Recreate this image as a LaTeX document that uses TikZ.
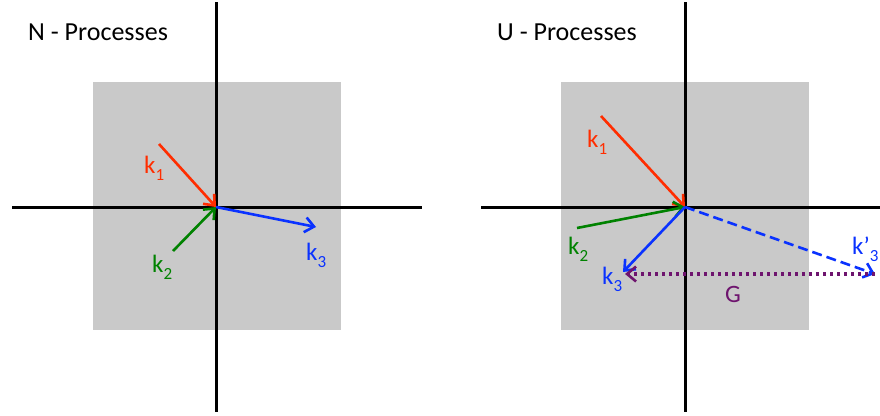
\documentclass[tikz,border=0pt]{standalone}
\usepackage{fontspec}
\setmainfont{Carlito}
\usetikzlibrary{arrows.meta}
\definecolor{kred}{RGB}{255,45,0}
\definecolor{kgreen}{RGB}{0,130,0}
\definecolor{kblue}{RGB}{10,50,255}
\definecolor{kpurple}{RGB}{110,20,110}
\definecolor{boxgray}{RGB}{201,201,201}
\newcommand\ksub[1]{\raisebox{-7pt}{\fontsize{17}{17}\selectfont #1}}
\tikzset{
  axis/.style={line width=3pt,black},
  vec/.style={line width=2.6pt,-{Straight Barb[length=9pt,width=15pt,line width=2.6pt]}},
  lbl/.style={font=\fontsize{25}{27}\selectfont,inner sep=0pt,anchor=base west},
  title/.style={font=\fontsize{26}{28}\selectfont,inner sep=0pt,anchor=base west},
  panel/.style={fill=boxgray,draw=none}
}
\begin{document}
\begin{tikzpicture}[x=1pt,y=-1pt]
\useasboundingbox (0,0) rectangle (880,415);
% left panel
\fill[panel] (93,82) rectangle (341,330);
\coordinate (oL) at (216,207);
\coordinate (axLt) at (216,2);
\coordinate (axLb) at (216,412);
\coordinate (axLl) at (12,207);
\coordinate (axLr) at (422,207);
\draw[axis] (axLt) -- (axLb);
\draw[axis] (axLl) -- (axLr);
\node[title] (tN) at (28,40) {N - Processes};
\coordinate (k1sL) at (159,144);
\coordinate (k2sL) at (173,251);
\coordinate (k3eL) at (316,227);
\draw[vec,kred] (k1sL) -- (oL);
\draw[vec,kgreen] (k2sL) -- (oL);
\draw[vec,kblue] (oL) -- (k3eL);
\node[lbl,text=kred] (lk1L) at (144,173) {k\ksub{1}};
\node[lbl,text=kgreen] (lk2L) at (152,272) {k\ksub{2}};
\node[lbl,text=kblue] (lk3L) at (306,260) {k\ksub{3}};
% right panel
\fill[panel] (561,82) rectangle (809,330);
\coordinate (oR) at (685,207);
\coordinate (axRt) at (685,2);
\coordinate (axRb) at (685,412);
\coordinate (axRl) at (481,207);
\coordinate (axRr) at (880,207);
\draw[axis] (axRt) -- (axRb);
\draw[axis] (axRl) -- (axRr);
\node[title] (tU) at (497,40) {U - Processes};
\coordinate (k1sR) at (601,116);
\coordinate (k2sR) at (577,228);
\coordinate (k3eR) at (623,272);
\coordinate (k3pR) at (875,274);
\coordinate (GeR) at (625,274);
\draw[vec,kred] (k1sR) -- (oR);
\draw[vec,kgreen] (k2sR) -- (oR);
\draw[vec,kblue] (oR) -- (k3eR);
\draw[vec,kblue,dash pattern=on 10pt off 5pt] (oR) -- (k3pR);
\draw[vec,kpurple,line width=3.2pt,dash pattern=on 3.5pt off 3.5pt] (k3pR) -- (GeR);
\node[lbl,text=kred] (lk1R) at (587,147) {k\ksub{1}};
\node[lbl,text=kgreen] (lk2R) at (568,254) {k\ksub{2}};
\node[lbl,text=kblue] (lk3R) at (602,284) {k\ksub{3}};
\node[lbl,text=kblue] (lk3pR) at (852,254) {k\symbol{39}\ksub{3}};
\node[lbl,text=kpurple] (lG) at (725,302) {G};
\end{tikzpicture}
\end{document}
